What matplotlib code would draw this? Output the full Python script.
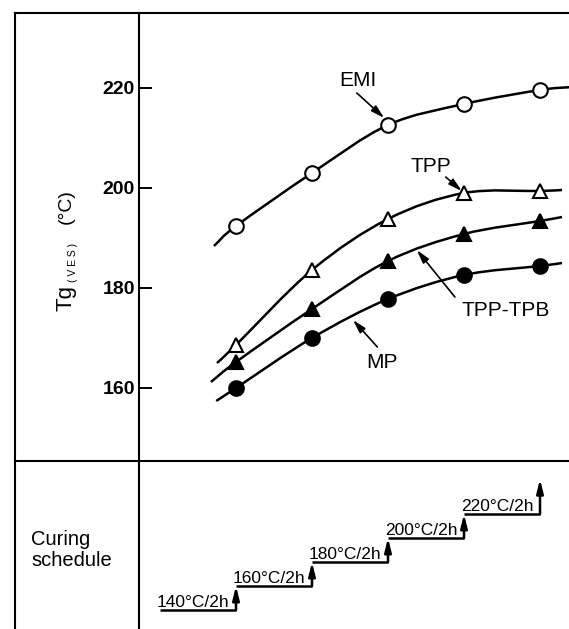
import matplotlib
matplotlib.use("Agg")
import matplotlib.pyplot as plt
import numpy as np
from matplotlib.path import Path
from matplotlib.patches import PathPatch
from matplotlib.lines import Line2D

### DATA
steps = [1, 2, 3, 4, 5]
emi = [192.4, 203.0, 212.6, 216.8, 219.6]
tpp = [168.6, 183.6, 193.8, 199.0, 199.4]
tpp_tpb = [165.2, 175.8, 185.4, 190.8, 193.4]
mp = [160.0, 170.0, 177.8, 182.6, 184.4]

# where each hand-drawn curve begins and ends: (step, Tg)
emi_ends = [(0.71, 188.4), (5.42, 220.2)]
tpp_ends = [(0.75, 165.0), (5.29, 199.6)]
tpp_tpb_ends = [(0.67, 161.2), (5.29, 194.2)]
mp_ends = [(0.74, 157.4), (5.29, 185.0)]

cure_temps = [140, 160, 180, 200, 220]
cure_labels = ["140°C/2h", "160°C/2h", "180°C/2h", "200°C/2h", "220°C/2h"]
yticks = [160, 180, 200, 220]
###

W, H = 569, 629
SANS = ["Liberation Sans", "DejaVu Sans"]
plt.rcParams["font.family"] = SANS

fig = plt.figure(figsize=(W / 100, H / 100), dpi=100)


def fx(x):
    return x / W


def fy(y):
    return 1 - y / H


def smooth_path(xs, ys):
    # Catmull-Rom through the points, written as cubic Bezier pieces
    p = np.column_stack([xs, ys]).astype(float)
    q = np.vstack([2 * p[0] - p[1], p, 2 * p[-1] - p[-2]])
    verts = [p[0]]
    codes = [Path.MOVETO]
    for k in range(len(p) - 1):
        p0, p1, p2, p3 = q[k], q[k + 1], q[k + 2], q[k + 3]
        verts += [p1 + (p2 - p0) / 6, p2 - (p3 - p1) / 6, p2]
        codes += [Path.CURVE4] * 3
    return Path(verts, codes)


xlim = ((139 - 160) / 76, (569 - 160) / 76)

# upper panel: Tg vs cure step
ax = fig.add_axes([fx(139), fy(461), 1 - fx(139), (461 - 13) / H])
ax.set_xlim(*xlim)
ax.set_ylim(145.4, 235)
for side in ["top", "right", "bottom"]:
    ax.spines[side].set_visible(False)
ax.spines["left"].set_linewidth(1.5)
ax.set_xticks([])
ax.set_yticks(yticks)
ax.tick_params(axis="y", direction="in", length=9.5, width=1.4, pad=3)
for lbl in ax.get_yticklabels():
    lbl.set_fontweight("bold")
    lbl.set_fontsize(14)

series = [
    (emi, emi_ends, dict(marker="o", ms=10.5, mfc="white")),
    (tpp, tpp_ends, dict(marker="^", ms=10, mfc="white")),
    (tpp_tpb, tpp_tpb_ends, dict(marker="^", ms=10, mfc="black")),
    (mp, mp_ends, dict(marker="o", ms=10.5, mfc="black")),
]
for vals, ends, style in series:
    xs = [ends[0][0]] + steps + [ends[1][0]]
    ys = [ends[0][1]] + vals + [ends[1][1]]
    ax.add_patch(PathPatch(smooth_path(xs, ys), fill=False, ec="black", lw=1.8))
    ax.plot(steps, vals, ls="none", mec="black", mew=1.5, zorder=3, **style)

arrow = dict(arrowstyle="-|>,head_length=0.8,head_width=0.22", color="black",
             lw=1.2, shrinkA=0, shrinkB=0)
labels = [
    ("EMI", (2.61, 221.6), (2.59, 219.0), (2.95, 214.0)),
    ("TPP", (3.57, 204.4), (3.76, 202.2), (3.97, 199.4)),
    ("TPP-TPB", (4.55, 175.6), (3.88, 178.2), (3.38, 187.6)),
    ("MP", (2.92, 165.0), (2.86, 168.2), (2.54, 173.6)),
]
for name, pos, tail, head in labels:
    ax.text(*pos, name, ha="center", va="center", fontsize=15)
    ax.annotate("", xy=head, xytext=tail, arrowprops=arrow)

# lower panel: curing schedule staircase
ax2 = fig.add_axes([fx(139), 0, 1 - fx(139), (H - 461) / H])
ax2.patch.set_visible(False)
ax2.set_xlim(*xlim)
ax2.set_ylim(140 - 19 / 1.2, 140 + 149 / 1.2)
for side in ["top", "right", "bottom"]:
    ax2.spines[side].set_visible(False)
ax2.spines["left"].set_linewidth(1.5)
ax2.set_xticks([])
ax2.set_yticks([])

st = np.array(steps)
ax2.hlines(cure_temps, st - 1, st, color="black", lw=1.8)
riser = dict(arrowstyle="-|>,head_length=0.8,head_width=0.2", color="black",
             lw=1.8, shrinkA=0, shrinkB=0)
for i, (s, t) in enumerate(zip(steps, cure_temps)):
    top = cure_temps[i + 1] if i + 1 < len(cure_temps) else t + 29
    ax2.annotate("", xy=(s, top), xytext=(s, t), arrowprops=riser)
    ax2.text(s - 1 - 0.04, t + 2.5, cure_labels[i], ha="left", va="baseline",
             fontsize=12.5)

# outer frame and the divider between panels
for (x0, y0), (x1, y1) in [((15, 13), (569, 13)), ((15, 461), (569, 461)),
                           ((15, 13), (15, 629))]:
    fig.add_artist(Line2D([fx(x0), fx(x1)], [fy(y0), fy(y1)], color="black",
                          lw=1.5, transform=fig.transFigure))

# axis title, built from pieces
fig.text(fx(66), fy(298), "Tg", rotation=90, ha="center", va="center", fontsize=16)
fig.text(fx(73), fy(262), "( V E S )", rotation=90, ha="center", va="center", fontsize=7.5)
fig.text(fx(66), fy(207), "(°C)", rotation=90, ha="center", va="center", fontsize=14)

fig.text(fx(31), fy(550), "Curing\nschedule", ha="left", va="center", fontsize=14.5,
         linespacing=1.15)

fig.savefig("out.png", dpi=100)
